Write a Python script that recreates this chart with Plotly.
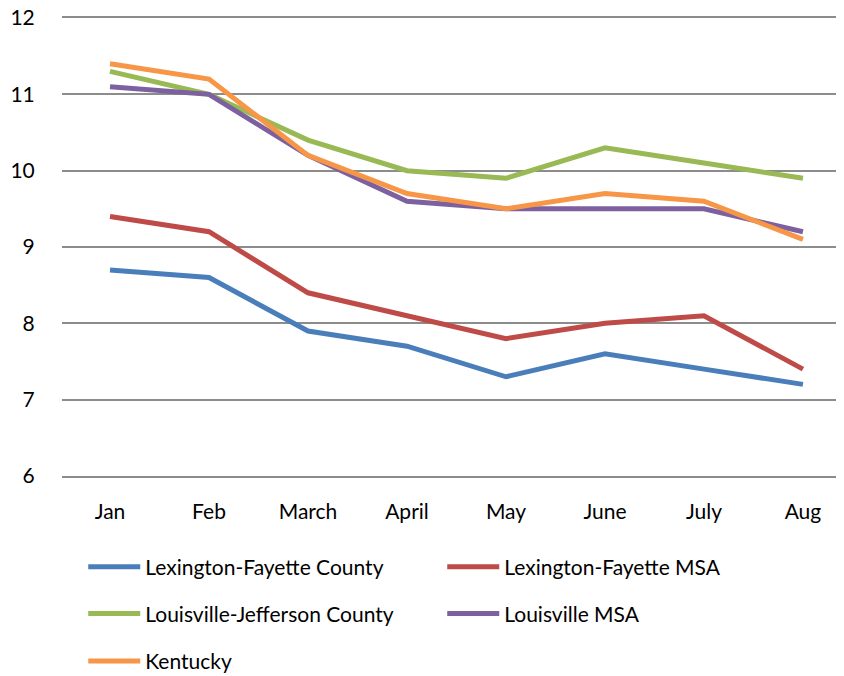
import plotly.graph_objects as go

months = ["Jan", "Feb", "March", "April", "May", "June", "July", "Aug"]
lex_county = [8.7, 8.6, 7.9, 7.7, 7.3, 7.6, 7.4, 7.2]
lex_msa = [9.4, 9.2, 8.4, 8.1, 7.8, 8.0, 8.1, 7.4]
lou_county = [11.3, 11.0, 10.4, 10.0, 9.9, 10.3, 10.1, 9.9]
lou_msa = [11.1, 11.0, 10.2, 9.6, 9.5, 9.5, 9.5, 9.2]
kentucky = [11.4, 11.2, 10.2, 9.7, 9.5, 9.7, 9.6, 9.1]
y_ticks = [6, 7, 8, 9, 10, 11, 12]

FONT = "Lato, Open Sans, sans-serif"

series = [
    ("Lexington-Fayette County", lex_county, "#4A7EBB", "legend"),
    ("Lexington-Fayette MSA", lex_msa, "#BE4B48", "legend"),
    ("Louisville-Jefferson County", lou_county, "#98B954", "legend2"),
    ("Louisville MSA", lou_msa, "#7D60A0", "legend2"),
    ("Kentucky", kentucky, "#F79646", "legend3"),
]

fig = go.Figure()
for name, vals, color, lg in series:
    fig.add_trace(go.Scatter(
        x=months, y=vals, mode="lines", name=name,
        line=dict(color=color, width=5),
        legend=lg,
    ))

leg_common = dict(
    orientation="h", xanchor="left", yanchor="middle",
    xref="container", yref="container",
    font=dict(family=FONT, size=21, color="#000000"),
    bgcolor="rgba(0,0,0,0)", entrywidth=292, entrywidthmode="pixels",
    itemwidth=52,
)

GRID = "#8C8C8C"
fig.update_layout(
    width=836, height=668,
    margin=dict(l=54, r=6, t=10, b=200, autoexpand=False),
    paper_bgcolor="white", plot_bgcolor="white",
    showlegend=True,
    legend=dict(x=0.09, y=0.163, **leg_common),
    legend2=dict(x=0.09, y=0.093, **leg_common),
    legend3=dict(x=0.09, y=0.022, **leg_common),
    xaxis=dict(
        type="category", range=[-0.485, 7.354], showgrid=False, zeroline=False,
        showline=True, mirror=True, linecolor=GRID, linewidth=1.5,
        ticks="outside", ticklen=16, tickcolor="rgba(0,0,0,0)",
        tickfont=dict(family=FONT, size=21, color="#000000"),
        automargin=False,
    ),
    yaxis=dict(
        range=[6, 12], tickvals=y_ticks, showgrid=True,
        gridcolor=GRID, gridwidth=1.5, zeroline=False, showline=False,
        ticks="outside", ticklen=22, tickcolor="rgba(0,0,0,0)",
        tickfont=dict(family=FONT, size=21, color="#000000"),
        ticklabeloverflow="allow",
        automargin=False,
    ),
)

fig.write_html("out.html")
